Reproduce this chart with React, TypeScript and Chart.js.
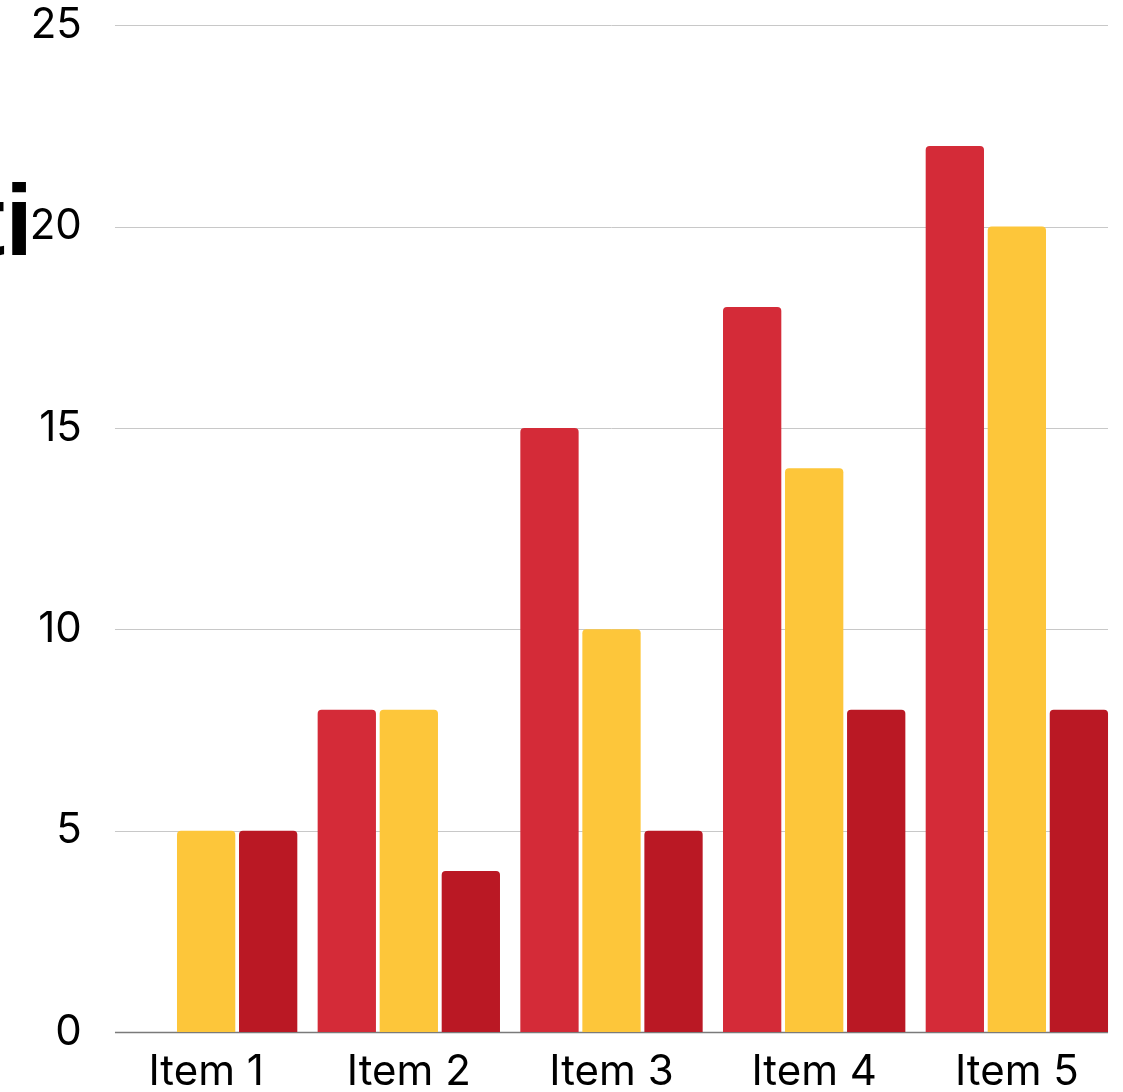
import React, { useEffect, useRef } from "react";
import { Chart, registerables } from "chart.js";

Chart.register(...registerables);

const categories = ["Item 1", "Item 2", "Item 3", "Item 4", "Item 5"];
const seriesA = [null, 8, 15, 18, 22];
const seriesB = [5, 8, 10, 14, 20];
const seriesC = [5, 4, 5, 8, 8];
const yTicks = [0, 5, 10, 15, 20, 25];

const gridPlugin = {
  id: "customGrid",
  beforeDatasetsDraw(chart: any) {
    const { ctx } = chart;
    const y = chart.scales.y;
    let left = Infinity;
    let right = -Infinity;
    chart.data.datasets.forEach((_: any, i: number) => {
      const meta = chart.getDatasetMeta(i);
      meta.data.forEach((el: any) => {
        const props = el.getProps(["x", "width"], true);
        if (props.width && !isNaN(props.x)) {
          left = Math.min(left, props.x - props.width / 2);
          right = Math.max(right, props.x + props.width / 2);
        }
      });
    });
    // leftmost slot belongs to a null bar: derive from neighbouring slots
    const b1 = chart.getDatasetMeta(1).data[0].getProps(["x", "width"], true);
    const c1 = chart.getDatasetMeta(2).data[0].getProps(["x"], true);
    const slot = c1.x - b1.x;
    left = Math.min(left, b1.x - slot - b1.width / 2);
    ctx.save();
    y.ticks.forEach((t: any) => {
      const py = Math.round(y.getPixelForValue(t.value)) + 0.5;
      ctx.beginPath();
      if (t.value === 0) {
        ctx.strokeStyle = "#7a7a7a";
        ctx.lineWidth = 1.6;
      } else {
        ctx.strokeStyle = "#c8c8c8";
        ctx.lineWidth = 1;
      }
      ctx.moveTo(left, py);
      ctx.lineTo(right, py);
      ctx.stroke();
    });
    ctx.restore();
  },
};

export default function App() {
  const ref = useRef<HTMLCanvasElement | null>(null);
  useEffect(() => {
    if (!ref.current) return;
    const font = { family: "Inter", size: 42 };
    const chart = new Chart(ref.current, {
      type: "bar",
      data: {
        labels: categories,
        datasets: [
          { label: "A", data: seriesA as any, backgroundColor: "#d42b38", borderRadius: 4 },
          { label: "B", data: seriesB, backgroundColor: "#fdc63a", borderRadius: 4 },
          { label: "C", data: seriesC, backgroundColor: "#ba1824", borderRadius: 4 },
        ],
      },
      options: {
        animation: false,
        responsive: true,
        maintainAspectRatio: false,
        layout: { padding: { top: 0, right: 4.8, left: 0, bottom: 0 } },
        datasets: { bar: { categoryPercentage: 0.918, barPercentage: 0.94 } },
        plugins: { legend: { display: false }, tooltip: { enabled: false } },
        scales: {
          x: {
            grid: { display: false, drawTicks: false },
            border: { display: false },
            ticks: { font, color: "#000", padding: 15, maxRotation: 0 },
            afterFit: (s: any) => {
              s.height = 60;
            },
          },
          y: {
            min: 0,
            max: 25,
            afterBuildTicks: (s: any) => {
              s.ticks = yTicks.map((v) => ({ value: v }));
            },
            grid: { display: false, drawTicks: true, tickLength: 23 },
            border: { display: false },
            ticks: { font, color: "#000", padding: 0, stepSize: 5 },
            afterFit: (s: any) => {
              s.width = 104.8;
            },
          },
        },
      },
      plugins: [gridPlugin],
    });
    return () => chart.destroy();
  }, []);
  return (
    <div style={{ position: "fixed", left: 0, top: 0, width: 1123, height: 1092, background: "#fff", overflow: "hidden" }}>
      <canvas ref={ref} />
      <div
        style={{
          position: "absolute",
          right: 1090,
          top: 170,
          whiteSpace: "nowrap",
          fontFamily: "Liberation Sans",
          fontWeight: 700,
          fontSize: 100,
          lineHeight: 1,
          color: "#000",
        }}
      >
        ti
      </div>
    </div>
  );
}
